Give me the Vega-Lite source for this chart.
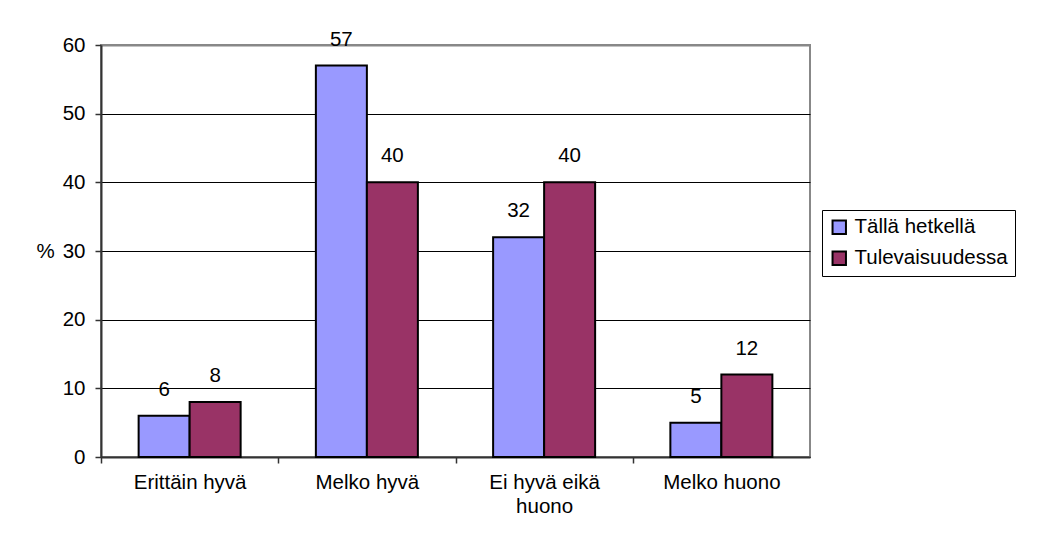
{
  "$schema": "https://vega.github.io/schema/vega-lite/v6.json",
  "autosize": {"type": "none"},
  "width": 709,
  "height": 412,
  "padding": {"left": 101, "top": 45, "right": 228, "bottom": 93},
  "background": "white",
  "config": {
    "font": "Liberation Sans",
    "view": {"stroke": "#888888", "strokeWidth": 2}
  },
  "data": {
    "values": [
      {"kategoria": "Erittäin hyvä", "sarja": "Tällä hetkellä", "arvo": 6},
      {"kategoria": "Erittäin hyvä", "sarja": "Tulevaisuudessa", "arvo": 8},
      {"kategoria": "Melko hyvä", "sarja": "Tällä hetkellä", "arvo": 57},
      {"kategoria": "Melko hyvä", "sarja": "Tulevaisuudessa", "arvo": 40},
      {"kategoria": "Ei hyvä eikä\nhuono", "sarja": "Tällä hetkellä", "arvo": 32},
      {"kategoria": "Ei hyvä eikä\nhuono", "sarja": "Tulevaisuudessa", "arvo": 40},
      {"kategoria": "Melko huono", "sarja": "Tällä hetkellä", "arvo": 5},
      {"kategoria": "Melko huono", "sarja": "Tulevaisuudessa", "arvo": 12}
    ]
  },
  "encoding": {
    "x": {
      "field": "kategoria",
      "type": "nominal",
      "sort": null,
      "scale": {"paddingInner": 0.4245, "paddingOuter": 0.2123},
      "axis": {
        "title": null,
        "labelAngle": 0,
        "labelFontSize": 20.5,
        "labelColor": "black",
        "labelPadding": 9,
        "labelOffset": 88.6,
        "labelExpr": "split(datum.label, '\\n')",
        "labelLineHeight": 24,
        "domainColor": "#333333",
        "domainWidth": 2,
        "tickColor": "#333333",
        "tickWidth": 1.5,
        "tickSize": 6,
        "tickOffset": -88.6,
        "grid": false
      }
    },
    "xOffset": {"field": "sarja", "type": "nominal", "sort": ["Tällä hetkellä", "Tulevaisuudessa"], "scale": {"paddingInner": 0, "paddingOuter": 0}},
    "y": {
      "field": "arvo",
      "type": "quantitative",
      "scale": {"domain": [0, 60], "nice": false},
      "axis": {
        "title": "%",
        "titleAngle": 0,
        "titleFontSize": 20.5,
        "titleFontWeight": "normal",
        "titleColor": "black",
        "titleX": -65,
        "titleY": 206,
        "titleAlign": "left",
        "titleBaseline": "middle",
        "values": [0, 10, 20, 30, 40, 50, 60],
        "labelFontSize": 20.5,
        "labelColor": "black",
        "labelPadding": 10,
        "domainColor": "#333333",
        "domainWidth": 2,
        "tickColor": "#333333",
        "tickWidth": 1.5,
        "tickSize": 6,
        "grid": true,
        "gridColor": {"condition": {"test": "datum.value === 60", "value": "#888888"}, "value": "black"},
        "gridWidth": {"condition": {"test": "datum.value === 60", "value": 2}, "value": 1}
      }
    }
  },
  "layer": [
    {
      "mark": {"type": "bar", "stroke": "black", "strokeWidth": 2},
      "encoding": {
        "color": {
          "field": "sarja",
          "type": "nominal",
          "scale": {"domain": ["Tällä hetkellä", "Tulevaisuudessa"], "range": ["#9999FF", "#993366"]},
          "legend": {
            "title": null,
            "orient": "none",
            "legendX": 721,
            "legendY": 165,
            "symbolType": "square",
            "symbolSize": 180,
            "symbolStrokeColor": "black",
            "symbolStrokeWidth": 2,
            "labelFontSize": 20.5,
            "labelColor": "black",
            "labelOffset": 5,
            "rowPadding": 9,
            "padding": 7,
            "strokeColor": "black",
            "fillColor": "white",
            "labelLimit": 300
          }
        }
      }
    },
    {
      "mark": {"type": "text", "dy": -16, "fontSize": 20.5, "color": "black", "baseline": "bottom"},
      "encoding": {"text": {"field": "arvo", "type": "quantitative"}}
    }
  ]
}
